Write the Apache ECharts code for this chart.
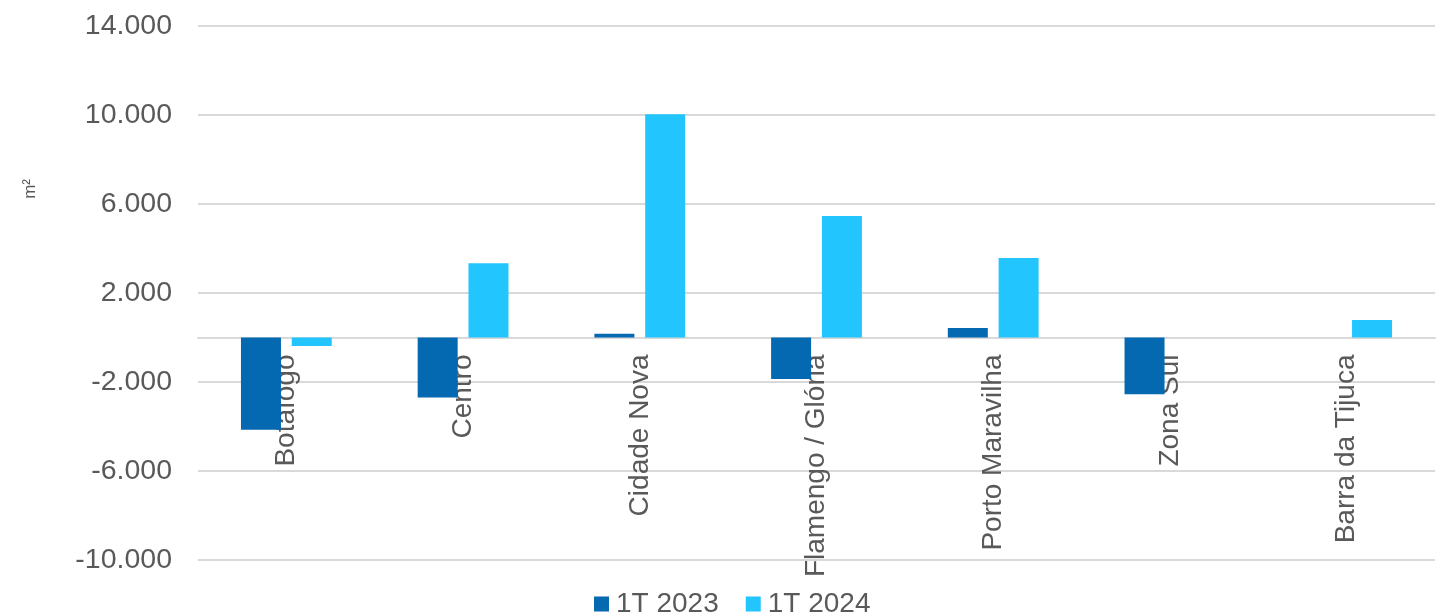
<!DOCTYPE html>
<html>
<head>
<meta charset="utf-8">
<script src="https://cdn.jsdelivr.net/npm/echarts@6/dist/echarts.min.js"></script>
<style>
html,body{margin:0;padding:0;background:#fff;}
#chart{width:1444px;height:615px;}
</style>
</head>
<body>
<div id="chart"></div>
<script>
const categories = ['Botafogo', 'Centro', 'Cidade Nova', 'Flamengo / Glória', 'Porto Maravilha', 'Zona Sul', 'Barra da Tijuca'];
const seriesNames = ['1T 2023', '1T 2024'];
const values2023 = [-4150, -2700, 170, -1870, 430, -2550, null];
const values2024 = [-380, 3340, 10030, 5460, 3570, null, 790];
const yMin = -10000, yMax = 14000, yStep = 4000;
const colors = ['#0569b2', '#23c5ff'];
const FONT = '"Liberation Sans", Arial, sans-serif';
const textColor = '#595959';

const GRID_TOP = 26, GRID_H = 534;
const zeroOffset = -GRID_H * (0 - yMin) / (yMax - yMin);

function fmt(v){
  const s = Math.abs(v).toString().replace(/\B(?=(\d{3})+(?!\d))/g, '.');
  return (v < 0 ? '-' : '') + s;
}

const chart = echarts.init(document.getElementById('chart'));
chart.setOption({
  animation: false,
  color: colors,
  grid: { left: 198, right: 9, top: GRID_TOP, height: GRID_H, containLabel: false, outerBoundsMode: 'none' },
  graphic: [{
    type: 'text', left: 22, top: 179, rotation: Math.PI / 2,
    style: { text: 'm²', fontSize: 17, fontFamily: 'Liberation Sans', fill: textColor }
  }],
  legend: {
    data: seriesNames, left: 589, top: 585, icon: 'rect',
    itemWidth: 15, itemHeight: 15, itemGap: 27,
    textStyle: { fontSize: 28, color: textColor, fontFamily: FONT, padding: [0,0,0,2] }
  },
  xAxis: {
    type: 'category', data: categories,
    offset: zeroOffset,
    axisLine: { onZero: false, lineStyle: { color: '#d9d9d9', width: 2 } },
    axisTick: { show: false },
    axisLabel: { rotate: 90, margin: 17, fontSize: 28, color: textColor, fontFamily: FONT, interval: 0 }
  },
  yAxis: {
    type: 'value', min: yMin, max: yMax, interval: yStep,
    axisLine: { show: false }, axisTick: { show: false },
    splitLine: { lineStyle: { color: '#d9d9d9', width: 2 } },
    axisLabel: { margin: 26, fontSize: 28.5, color: textColor, fontFamily: FONT, formatter: fmt }
  },
  series: [
    { name: seriesNames[0], type: 'bar', data: values2023, barWidth: 40, barGap: '27%' },
    { name: seriesNames[1], type: 'bar', data: values2024, barWidth: 40, barGap: '27%' }
  ]
});
</script>
</body>
</html>
